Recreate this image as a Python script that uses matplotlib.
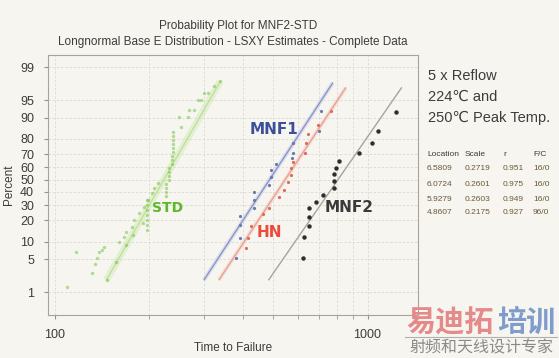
import math
import numpy as np
import matplotlib
matplotlib.use("Agg")
import matplotlib.pyplot as plt
from matplotlib.ticker import FixedLocator, NullLocator, NullFormatter

# dati (tempo, percentuale)
std_t = [109, 117, 131, 134, 136, 138, 141, 144, 147, 157, 160, 166, 169, 169, 176, 178, 179, 186, 191, 192,
         197, 197, 197, 197, 197, 197, 197, 199, 204, 208, 214,
         227, 227, 227, 227, 232, 232, 232, 232, 236, 236, 236,
         239, 239, 239, 239, 239, 239,
         250, 253, 267, 269, 279, 287, 294, 300, 309, 323, 338]
std_p = [1.3, 6.8, 2.7, 4.0, 5.4, 6.8, 7.4, 8.3, 1.9, 4.5, 10.0, 11.9, 9.0, 14.0, 16.6, 12.8, 20.5, 24.8, 18.7, 28.8,
         15.1, 17.6, 20.4, 23.5, 26.8, 30.3, 34.0, 34.0, 39.4, 43.4, 47.5,
         37.0, 40.2, 43.4, 46.7, 50.0, 53.3, 56.6, 59.8, 63.0, 66.0, 69.0,
         71.9, 74.6, 77.2, 79.6, 81.8, 83.9,
         90.3, 86.3, 90.3, 92.6, 92.6, 95.1, 95.1, 96.4, 96.4, 97.3, 97.9]

mnf1_t = [380, 391, 391, 391, 433, 433, 433, 484, 491, 491, 509, 573, 577, 577, 698, 708]
mnf1_p = [5.3, 11.5, 17.6, 22.8, 28.1, 34.0, 40.2, 45.9, 52.5, 58.2, 63.0, 67.5, 71.2, 77.8, 84.4, 92.3]

hn_t = [408, 414, 424, 463, 484, 520, 540, 556, 568, 568, 577, 630, 634, 644, 693, 762]
hn_p = [8.0, 11.5, 17.1, 24.1, 28.1, 36.3, 41.8, 48.4, 54.1, 59.8, 64.5, 71.2, 77.8, 82.9, 87.2, 92.3]

mnf2_t = [620, 625, 648, 648, 648, 683, 719, 779, 779, 779, 791, 808, 936, 1037, 1076, 1237]
mnf2_p = [5.3, 11.9, 17.1, 22.2, 28.1, 32.5, 37.8, 43.4, 49.2, 54.9, 59.8, 65.3, 71.2, 77.8, 84.4, 92.0]

# estremi delle rette di fit (tempo, percentuale)
std_fit_t = [146, 338]
std_fit_p = [1.9, 97.9]
mnf1_fit_t = [300, 773]
mnf1_fit_p = [1.94, 97.7]
hn_fit_t = [335, 851]
hn_fit_p = [1.94, 97.1]
mnf2_fit_t = [483, 1283]
mnf2_fit_p = [1.94, 97.1]

y_ticks = [1, 5, 10, 20, 30, 40, 50, 60, 70, 80, 90, 95, 99]

tab_head = ["Location", "Scale", "r", "F/C"]
tab_loc = ["6.5809", "6.0724", "5.9279", "4.8607"]
tab_scale = ["0.2719", "0.2601", "0.2603", "0.2175"]
tab_r = ["0.951", "0.975", "0.949", "0.927"]
tab_fc = ["16/0", "16/0", "16/0", "96/0"]


def norm_ppf(p):
    p = np.clip(np.asarray(p, dtype=float), 1e-10, 1 - 1e-10)
    a = [-3.969683028665376e+01, 2.209460984245205e+02, -2.759285104469687e+02,
         1.383577518672690e+02, -3.066479806614716e+01, 2.506628277459239e+00]
    b = [-5.447609879822406e+01, 1.615858368580409e+02, -1.556989798598866e+02,
         6.680131188771972e+01, -1.328068155288572e+01]
    c = [-7.784894002430293e-03, -3.223964580411365e-01, -2.400758277161838e+00,
         -2.549732539343734e+00, 4.374664141464968e+00, 2.938163982698783e+00]
    d = [7.784695709041462e-03, 3.224671290700398e-01, 2.445134137142996e+00,
         3.754408661907416e+00]

    def tail(q):
        return (((((c[0]*q+c[1])*q+c[2])*q+c[3])*q+c[4])*q+c[5]) / \
               ((((d[0]*q+d[1])*q+d[2])*q+d[3])*q+1)

    q = p - 0.5
    r = q * q
    mid = (((((a[0]*r+a[1])*r+a[2])*r+a[3])*r+a[4])*r+a[5])*q / \
          (((((b[0]*r+b[1])*r+b[2])*r+b[3])*r+b[4])*r+1)
    lo = tail(np.sqrt(-2 * np.log(p)))
    hi = -tail(np.sqrt(-2 * np.log(1 - p)))
    return np.where(p < 0.02425, lo, np.where(p > 1 - 0.02425, hi, mid))


_erf = np.vectorize(math.erf)


def fwd(y):
    return norm_ppf(np.asarray(y, dtype=float) / 100.0)


def inv(z):
    return 50.0 * (1 + _erf(np.asarray(z, dtype=float) / math.sqrt(2)))


bg = "#f6f5f0"
txt = "#3c3c3c"
plt.rcParams['font.family'] = ['Liberation Sans', 'DejaVu Sans', 'Noto Sans CJK SC']

fig = plt.figure(figsize=(5.59, 3.58), dpi=100, facecolor=bg)
ax = fig.add_axes([48/559, 1-315/358, 370/559, 260/358])
ax.set_facecolor(bg)

ax.set_xscale("log")
ax.set_yscale("function", functions=(fwd, inv))
ax.set_xlim(95, 1450)
ax.set_ylim(0.26, 99.5)

# rette di fit (con alone chiaro)
ax.plot(std_fit_t, std_fit_p, color="#c4e6a0", lw=5, alpha=0.4, solid_capstyle="butt", zorder=2)
ax.plot(std_fit_t, std_fit_p, color="#a8d67a", lw=0.8, alpha=0.7, zorder=2)
ax.plot(mnf1_fit_t, mnf1_fit_p, color="#c4cbe8", lw=3, alpha=0.5, solid_capstyle="butt", zorder=2)
ax.plot(mnf1_fit_t, mnf1_fit_p, color="#8c96c8", lw=1.0, zorder=2)
ax.plot(hn_fit_t, hn_fit_p, color="#f4cfc6", lw=3, alpha=0.5, solid_capstyle="butt", zorder=2)
ax.plot(hn_fit_t, hn_fit_p, color="#eaa090", lw=1.0, zorder=2)
ax.plot(mnf2_fit_t, mnf2_fit_p, color="#aaa398", lw=1.0, zorder=2)

# punti
ax.plot(std_t, std_p, "o", color="#6cc030", ms=2.4, alpha=0.5, mew=0, zorder=3)
ax.plot(mnf1_t, mnf1_p, "o", color="#6a78b0", ms=2.3, mew=0, zorder=4)
ax.plot(hn_t, hn_p, "o", color="#e06a5a", ms=2.3, mew=0, zorder=4)
ax.plot(mnf2_t, mnf2_p, "o", color="#2e2e2e", ms=3.2, mew=0, zorder=4)

# etichette serie
ax.text(0.611, 0.715, "MNF1", transform=ax.transAxes, ha="center", va="center",
        fontsize=11, fontweight="bold", color="#3d4f9a", family="DejaVu Sans")
ax.text(0.599, 0.319, "HN", transform=ax.transAxes, ha="center", va="center",
        fontsize=11, fontweight="bold", color="#ee4a3c", family="DejaVu Sans")
ax.text(0.814, 0.412, "MNF2", transform=ax.transAxes, ha="center", va="center",
        fontsize=11, fontweight="bold", color="#3a3a3a", family="DejaVu Sans")
ax.text(0.322, 0.412, "STD", transform=ax.transAxes, ha="center", va="center",
        fontsize=10, fontweight="bold", color="#5cb82a", family="DejaVu Sans")

# assi
ax.xaxis.set_major_locator(FixedLocator([100, 1000]))
ax.xaxis.set_minor_locator(FixedLocator([200, 300, 400, 500, 600, 700, 800, 900]))
ax.xaxis.set_minor_formatter(NullFormatter())
ax.set_xticklabels(["100", "1000"])
ax.yaxis.set_major_locator(FixedLocator(y_ticks))
ax.yaxis.set_minor_locator(NullLocator())
ax.set_yticklabels([str(v) for v in y_ticks])

ax.tick_params(axis="both", which="both", colors="#9a9488", labelcolor=txt, labelsize=9, length=3)
ax.tick_params(axis="x", which="major", pad=7)
ax.tick_params(axis="y", pad=7)

ax.grid(True, which="both", color="#dcdad2", lw=0.6, ls=(0, (3, 2)))
for s in ax.spines.values():
    s.set_color("#aaa498")
    s.set_linewidth(0.8)

ax.set_xlabel("Time to Failure", fontsize=8.5, color=txt, labelpad=1)
ax.set_ylabel("Percent", fontsize=8.5, color=txt, labelpad=4)

# titoli
fig.text(238/559, 1-26/358, "Probability Plot for MNF2-STD", ha="center", va="center", fontsize=8.5, color=txt)
fig.text(233/559, 1-42/358, "Longnormal Base E Distribution - LSXY Estimates - Complete Data",
         ha="center", va="center", fontsize=8.5, color=txt)

# testo a destra
fig.text(428/559, 1-76/358, "5 x Reflow", ha="left", va="center", fontsize=10.5, color=txt)
fig.text(428/559, 1-97/358, "224\u2103 and", ha="left", va="center", fontsize=10.5, color=txt)
fig.text(428/559, 1-118/358, "250\u2103 Peak Temp.", ha="left", va="center", fontsize=10.5, color=txt)

col_x = [427, 465, 503, 533]
for j, h in enumerate(tab_head):
    fig.text(col_x[j]/559, 1-154/358, h, ha="left", va="center", fontsize=6, color=txt)
row_y = [169, 184, 199, 213]
for i in range(len(tab_loc)):
    for j, v in enumerate([tab_loc[i], tab_scale[i], tab_r[i], tab_fc[i]]):
        fig.text(col_x[j]/559, 1-row_y[i]/358, v, ha="left", va="center", fontsize=6, color="#6a5a3a")

# marchio
fig.text(406/559, 1-322/358, "易迪拓", ha="left", va="center", fontsize=21, fontweight="bold",
         color="#e58a8a", family="Noto Sans CJK SC")
fig.text(497/559, 1-322/358, "培训", ha="left", va="center", fontsize=21, fontweight="bold",
         color="#7f9ccc", family="Noto Sans CJK SC")
fig.add_artist(plt.Line2D([405/559, 557/559], [1-337/358, 1-337/358], color="#b0b0b0", lw=0.8))
fig.text(481/559, 1-348/358, "射频和天线设计专家", ha="center", va="center", fontsize=11.5,
         color="#8a8a8a", family="Noto Sans CJK SC")

fig.savefig("out.png", dpi=100, facecolor=bg)
